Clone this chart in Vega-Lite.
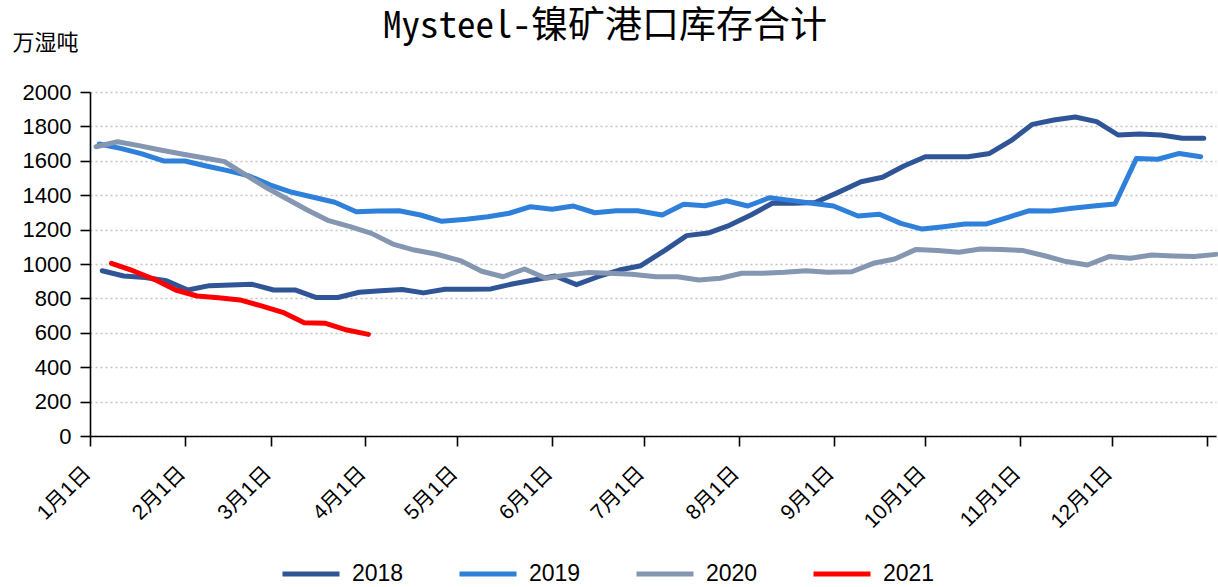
{
  "$schema": "https://vega.github.io/schema/vega-lite/v6.json",
  "width": 1126,
  "height": 344,
  "autosize": {"type": "none"},
  "padding": {"left": 90, "top": 92, "right": 2, "bottom": 151},
  "background": "white",
  "title": {
    "text": "Mysteel-镍矿港口库存合计",
    "font": "Noto Sans Mono CJK SC, Noto Sans CJK SC",
    "fontSize": 37,
    "fontWeight": "normal",
    "color": "#000000",
    "anchor": "middle",
    "frame": "group",
    "offset": -15,
    "dx": -48
  },
  "config": {
    "view": {"stroke": null},
    "axis": {
      "domainColor": "#000000",
      "domainWidth": 1.6,
      "tickColor": "#000000",
      "tickWidth": 1.6,
      "labelColor": "#000000"
    },
    "axisX": {"labelFontSize": 21, "labelFont": "Liberation Sans, Noto Sans CJK SC"},
    "axisY": {"labelFontSize": 22, "labelFont": "Liberation Sans"}
  },
  "data": {
    "values": [
      {"year": "2018", "axisDate": "2019-01-05", "value": 961},
      {"year": "2018", "axisDate": "2019-01-12", "value": 930},
      {"year": "2018", "axisDate": "2019-01-19", "value": 922},
      {"year": "2018", "axisDate": "2019-01-26", "value": 903},
      {"year": "2018", "axisDate": "2019-02-02", "value": 849},
      {"year": "2018", "axisDate": "2019-02-09", "value": 874},
      {"year": "2018", "axisDate": "2019-02-16", "value": 878},
      {"year": "2018", "axisDate": "2019-02-23", "value": 882},
      {"year": "2018", "axisDate": "2019-03-02", "value": 849},
      {"year": "2018", "axisDate": "2019-03-09", "value": 849},
      {"year": "2018", "axisDate": "2019-03-16", "value": 805},
      {"year": "2018", "axisDate": "2019-03-23", "value": 805},
      {"year": "2018", "axisDate": "2019-03-30", "value": 836},
      {"year": "2018", "axisDate": "2019-04-06", "value": 845},
      {"year": "2018", "axisDate": "2019-04-13", "value": 852},
      {"year": "2018", "axisDate": "2019-04-20", "value": 832},
      {"year": "2018", "axisDate": "2019-04-27", "value": 853},
      {"year": "2018", "axisDate": "2019-05-05", "value": 853},
      {"year": "2018", "axisDate": "2019-05-12", "value": 855},
      {"year": "2018", "axisDate": "2019-05-19", "value": 884},
      {"year": "2018", "axisDate": "2019-05-26", "value": 907},
      {"year": "2018", "axisDate": "2019-06-02", "value": 930},
      {"year": "2018", "axisDate": "2019-06-09", "value": 880},
      {"year": "2018", "axisDate": "2019-06-16", "value": 926},
      {"year": "2018", "axisDate": "2019-06-23", "value": 965},
      {"year": "2018", "axisDate": "2019-06-30", "value": 990},
      {"year": "2018", "axisDate": "2019-07-08", "value": 1081},
      {"year": "2018", "axisDate": "2019-07-15", "value": 1165},
      {"year": "2018", "axisDate": "2019-07-22", "value": 1180},
      {"year": "2018", "axisDate": "2019-07-29", "value": 1225},
      {"year": "2018", "axisDate": "2019-08-05", "value": 1285},
      {"year": "2018", "axisDate": "2019-08-12", "value": 1353},
      {"year": "2018", "axisDate": "2019-08-19", "value": 1353},
      {"year": "2018", "axisDate": "2019-08-26", "value": 1358},
      {"year": "2018", "axisDate": "2019-09-02", "value": 1412},
      {"year": "2018", "axisDate": "2019-09-10", "value": 1478},
      {"year": "2018", "axisDate": "2019-09-17", "value": 1504},
      {"year": "2018", "axisDate": "2019-09-24", "value": 1570},
      {"year": "2018", "axisDate": "2019-10-01", "value": 1624},
      {"year": "2018", "axisDate": "2019-10-08", "value": 1624},
      {"year": "2018", "axisDate": "2019-10-15", "value": 1624},
      {"year": "2018", "axisDate": "2019-10-22", "value": 1643},
      {"year": "2018", "axisDate": "2019-10-29", "value": 1717},
      {"year": "2018", "axisDate": "2019-11-05", "value": 1812},
      {"year": "2018", "axisDate": "2019-11-12", "value": 1837},
      {"year": "2018", "axisDate": "2019-11-19", "value": 1855},
      {"year": "2018", "axisDate": "2019-11-26", "value": 1828},
      {"year": "2018", "axisDate": "2019-12-03", "value": 1750},
      {"year": "2018", "axisDate": "2019-12-10", "value": 1756},
      {"year": "2018", "axisDate": "2019-12-17", "value": 1750},
      {"year": "2018", "axisDate": "2019-12-24", "value": 1731},
      {"year": "2018", "axisDate": "2019-12-31", "value": 1731},
      {"year": "2019", "axisDate": "2019-01-04", "value": 1698},
      {"year": "2019", "axisDate": "2019-01-11", "value": 1672},
      {"year": "2019", "axisDate": "2019-01-18", "value": 1640},
      {"year": "2019", "axisDate": "2019-01-25", "value": 1599},
      {"year": "2019", "axisDate": "2019-02-01", "value": 1599},
      {"year": "2019", "axisDate": "2019-02-08", "value": 1570},
      {"year": "2019", "axisDate": "2019-02-15", "value": 1543},
      {"year": "2019", "axisDate": "2019-02-22", "value": 1512},
      {"year": "2019", "axisDate": "2019-03-01", "value": 1459},
      {"year": "2019", "axisDate": "2019-03-08", "value": 1417},
      {"year": "2019", "axisDate": "2019-03-15", "value": 1388},
      {"year": "2019", "axisDate": "2019-03-22", "value": 1359},
      {"year": "2019", "axisDate": "2019-03-29", "value": 1304},
      {"year": "2019", "axisDate": "2019-04-05", "value": 1308},
      {"year": "2019", "axisDate": "2019-04-12", "value": 1310},
      {"year": "2019", "axisDate": "2019-04-19", "value": 1285},
      {"year": "2019", "axisDate": "2019-04-26", "value": 1248},
      {"year": "2019", "axisDate": "2019-05-04", "value": 1260},
      {"year": "2019", "axisDate": "2019-05-11", "value": 1275},
      {"year": "2019", "axisDate": "2019-05-18", "value": 1295},
      {"year": "2019", "axisDate": "2019-05-25", "value": 1333},
      {"year": "2019", "axisDate": "2019-06-01", "value": 1318},
      {"year": "2019", "axisDate": "2019-06-08", "value": 1337},
      {"year": "2019", "axisDate": "2019-06-15", "value": 1298},
      {"year": "2019", "axisDate": "2019-06-22", "value": 1310},
      {"year": "2019", "axisDate": "2019-06-29", "value": 1310},
      {"year": "2019", "axisDate": "2019-07-07", "value": 1285},
      {"year": "2019", "axisDate": "2019-07-14", "value": 1347},
      {"year": "2019", "axisDate": "2019-07-21", "value": 1339},
      {"year": "2019", "axisDate": "2019-07-28", "value": 1368},
      {"year": "2019", "axisDate": "2019-08-04", "value": 1337},
      {"year": "2019", "axisDate": "2019-08-11", "value": 1385},
      {"year": "2019", "axisDate": "2019-08-18", "value": 1370},
      {"year": "2019", "axisDate": "2019-08-25", "value": 1353},
      {"year": "2019", "axisDate": "2019-09-01", "value": 1337},
      {"year": "2019", "axisDate": "2019-09-09", "value": 1279},
      {"year": "2019", "axisDate": "2019-09-16", "value": 1289},
      {"year": "2019", "axisDate": "2019-09-23", "value": 1236},
      {"year": "2019", "axisDate": "2019-09-30", "value": 1203},
      {"year": "2019", "axisDate": "2019-10-07", "value": 1217},
      {"year": "2019", "axisDate": "2019-10-14", "value": 1233},
      {"year": "2019", "axisDate": "2019-10-21", "value": 1233},
      {"year": "2019", "axisDate": "2019-10-28", "value": 1271},
      {"year": "2019", "axisDate": "2019-11-04", "value": 1310},
      {"year": "2019", "axisDate": "2019-11-11", "value": 1308},
      {"year": "2019", "axisDate": "2019-11-18", "value": 1324},
      {"year": "2019", "axisDate": "2019-11-25", "value": 1337},
      {"year": "2019", "axisDate": "2019-12-02", "value": 1349},
      {"year": "2019", "axisDate": "2019-12-09", "value": 1614},
      {"year": "2019", "axisDate": "2019-12-16", "value": 1609},
      {"year": "2019", "axisDate": "2019-12-23", "value": 1643},
      {"year": "2019", "axisDate": "2019-12-30", "value": 1624},
      {"year": "2020", "axisDate": "2019-01-03", "value": 1682},
      {"year": "2020", "axisDate": "2019-01-10", "value": 1711},
      {"year": "2020", "axisDate": "2019-01-17", "value": 1688},
      {"year": "2020", "axisDate": "2019-01-24", "value": 1663},
      {"year": "2020", "axisDate": "2019-01-31", "value": 1640},
      {"year": "2020", "axisDate": "2019-02-07", "value": 1618},
      {"year": "2020", "axisDate": "2019-02-14", "value": 1595},
      {"year": "2020", "axisDate": "2019-02-21", "value": 1517},
      {"year": "2020", "axisDate": "2019-02-28", "value": 1440},
      {"year": "2020", "axisDate": "2019-03-06", "value": 1382},
      {"year": "2020", "axisDate": "2019-03-13", "value": 1314},
      {"year": "2020", "axisDate": "2019-03-20", "value": 1252},
      {"year": "2020", "axisDate": "2019-03-27", "value": 1217},
      {"year": "2020", "axisDate": "2019-04-03", "value": 1178},
      {"year": "2020", "axisDate": "2019-04-10", "value": 1116},
      {"year": "2020", "axisDate": "2019-04-17", "value": 1081},
      {"year": "2020", "axisDate": "2019-04-24", "value": 1058},
      {"year": "2020", "axisDate": "2019-05-02", "value": 1020},
      {"year": "2020", "axisDate": "2019-05-09", "value": 958},
      {"year": "2020", "axisDate": "2019-05-16", "value": 926},
      {"year": "2020", "axisDate": "2019-05-23", "value": 971},
      {"year": "2020", "axisDate": "2019-05-30", "value": 917},
      {"year": "2020", "axisDate": "2019-06-06", "value": 936},
      {"year": "2020", "axisDate": "2019-06-13", "value": 950},
      {"year": "2020", "axisDate": "2019-06-20", "value": 946},
      {"year": "2020", "axisDate": "2019-06-27", "value": 940},
      {"year": "2020", "axisDate": "2019-07-05", "value": 926},
      {"year": "2020", "axisDate": "2019-07-12", "value": 926},
      {"year": "2020", "axisDate": "2019-07-19", "value": 907},
      {"year": "2020", "axisDate": "2019-07-26", "value": 917},
      {"year": "2020", "axisDate": "2019-08-02", "value": 946},
      {"year": "2020", "axisDate": "2019-08-09", "value": 946},
      {"year": "2020", "axisDate": "2019-08-16", "value": 952},
      {"year": "2020", "axisDate": "2019-08-23", "value": 961},
      {"year": "2020", "axisDate": "2019-08-30", "value": 952},
      {"year": "2020", "axisDate": "2019-09-07", "value": 955},
      {"year": "2020", "axisDate": "2019-09-14", "value": 1004},
      {"year": "2020", "axisDate": "2019-09-21", "value": 1029},
      {"year": "2020", "axisDate": "2019-09-28", "value": 1085},
      {"year": "2020", "axisDate": "2019-10-05", "value": 1078},
      {"year": "2020", "axisDate": "2019-10-12", "value": 1068},
      {"year": "2020", "axisDate": "2019-10-19", "value": 1087},
      {"year": "2020", "axisDate": "2019-10-26", "value": 1085},
      {"year": "2020", "axisDate": "2019-11-02", "value": 1078},
      {"year": "2020", "axisDate": "2019-11-09", "value": 1048},
      {"year": "2020", "axisDate": "2019-11-16", "value": 1014},
      {"year": "2020", "axisDate": "2019-11-23", "value": 994},
      {"year": "2020", "axisDate": "2019-11-30", "value": 1043},
      {"year": "2020", "axisDate": "2019-12-07", "value": 1033},
      {"year": "2020", "axisDate": "2019-12-14", "value": 1052},
      {"year": "2020", "axisDate": "2019-12-21", "value": 1047},
      {"year": "2020", "axisDate": "2019-12-28", "value": 1043},
      {"year": "2020", "axisDate": "2020-01-04", "value": 1056},
      {"year": "2021", "axisDate": "2019-01-08", "value": 1004},
      {"year": "2021", "axisDate": "2019-01-15", "value": 961},
      {"year": "2021", "axisDate": "2019-01-22", "value": 911},
      {"year": "2021", "axisDate": "2019-01-29", "value": 849},
      {"year": "2021", "axisDate": "2019-02-05", "value": 814},
      {"year": "2021", "axisDate": "2019-02-12", "value": 804},
      {"year": "2021", "axisDate": "2019-02-19", "value": 791},
      {"year": "2021", "axisDate": "2019-02-26", "value": 756},
      {"year": "2021", "axisDate": "2019-03-05", "value": 719},
      {"year": "2021", "axisDate": "2019-03-12", "value": 659},
      {"year": "2021", "axisDate": "2019-03-19", "value": 655},
      {"year": "2021", "axisDate": "2019-03-26", "value": 616},
      {"year": "2021", "axisDate": "2019-04-02", "value": 591}
    ]
  },
  "mark": {"type": "line", "strokeWidth": 5, "strokeCap": "round", "strokeJoin": "round"},
  "encoding": {
    "x": {
      "field": "axisDate",
      "type": "temporal",
      "scale": {
        "type": "utc",
        "domain": [
          {"year": 2019, "month": 1, "date": 1, "utc": true},
          {"year": 2020, "month": 1, "date": 4, "utc": true}
        ]
      },
      "axis": {
        "title": null,
        "grid": false,
        "values": [
          {"year": 2019, "month": 1, "date": 1, "utc": true},
          {"year": 2019, "month": 2, "date": 1, "utc": true},
          {"year": 2019, "month": 3, "date": 1, "utc": true},
          {"year": 2019, "month": 4, "date": 1, "utc": true},
          {"year": 2019, "month": 5, "date": 1, "utc": true},
          {"year": 2019, "month": 6, "date": 1, "utc": true},
          {"year": 2019, "month": 7, "date": 1, "utc": true},
          {"year": 2019, "month": 8, "date": 1, "utc": true},
          {"year": 2019, "month": 9, "date": 1, "utc": true},
          {"year": 2019, "month": 10, "date": 1, "utc": true},
          {"year": 2019, "month": 11, "date": 1, "utc": true},
          {"year": 2019, "month": 12, "date": 1, "utc": true},
          {"year": 2020, "month": 1, "date": 1, "utc": true}
        ],
        "labelExpr": "utcyear(datum.value) == 2020 ? '' : (utcmonth(datum.value) + 1) + '月1日'",
        "tickSize": 10,
        "labelAngle": -45,
        "labelAlign": "right",
        "labelBaseline": "middle",
        "labelPadding": 24,
        "labelOffset": -3,
        "labelFont": "Liberation Sans, Noto Sans CJK SC",
        "labelFontSize": 21,
        "labelOverlap": false,
        "labelBound": false,
        "labelFlush": false
      }
    },
    "y": {
      "field": "value",
      "type": "quantitative",
      "scale": {"domain": [0, 2000], "nice": false, "zero": true},
      "axis": {
        "values": [0, 200, 400, 600, 800, 1000, 1200, 1400, 1600, 1800, 2000],
        "format": "d",
        "tickSize": 10,
        "labelPadding": 9,
        "labelFont": "Liberation Sans",
        "labelFontSize": 22,
        "grid": true,
        "gridColor": "#C4C4C4",
        "gridDash": [2, 3],
        "gridWidth": 1.4,
        "title": "万湿吨",
        "titleAngle": 0,
        "titleX": -78,
        "titleY": -50,
        "titleAlign": "left",
        "titleBaseline": "middle",
        "titleFont": "Noto Sans CJK SC",
        "titleFontSize": 22,
        "titleFontWeight": "normal",
        "titleColor": "#000000"
      }
    },
    "color": {
      "field": "year",
      "type": "nominal",
      "scale": {
        "domain": ["2018", "2019", "2020", "2021"],
        "range": ["#2F5597", "#2E80DA", "#8496B0", "#FF0000"]
      },
      "legend": {
        "orient": "none",
        "legendX": 190,
        "legendY": 451,
        "direction": "horizontal",
        "title": null,
        "symbolType": "stroke",
        "symbolSize": 3249,
        "symbolStrokeWidth": 5,
        "labelFont": "Liberation Sans",
        "labelFontSize": 23,
        "labelColor": "#000000",
        "labelOffset": 10,
        "columnPadding": 45,
        "padding": 0
      }
    }
  }
}
